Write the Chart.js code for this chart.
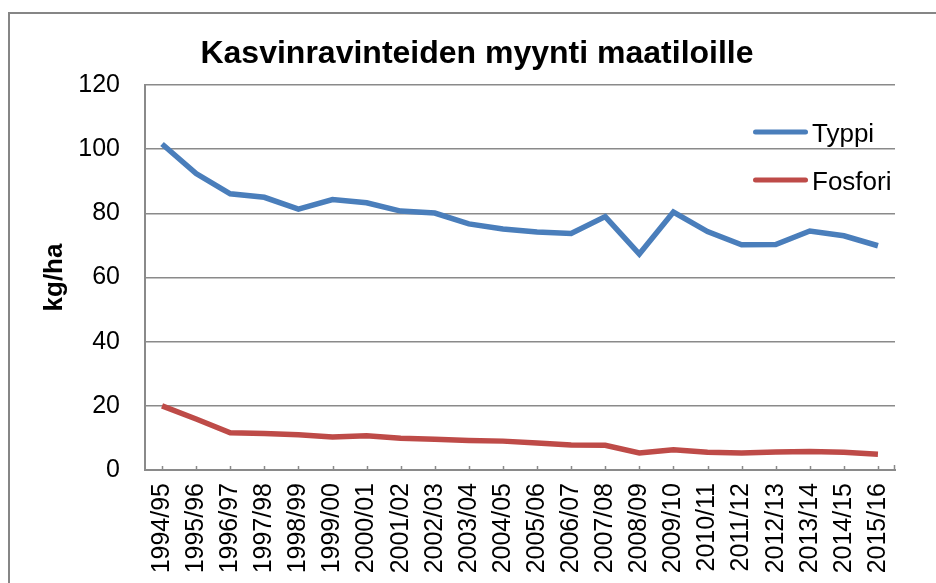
<!DOCTYPE html>
<html>
<head>
<meta charset="utf-8">
<script src="https://cdn.jsdelivr.net/npm/chart.js@4.4.1/dist/chart.umd.min.js"></script>
<style>
  html, body { margin: 0; padding: 0; background: #fff; overflow: hidden; }
  #wrap { position: relative; width: 936px; height: 583px; overflow: hidden; }
  #frame { position: absolute; left: 8px; top: 12px; width: 1000px; height: 1000px; border: 2px solid #868686; }
  #chart { position: absolute; left: 0; top: 0; }
</style>
</head>
<body>
<div id="wrap">
  <div id="frame"></div>
  <canvas id="chart" width="936" height="583"></canvas>
</div>
<script>
const chartTitle = 'Kasvinravinteiden myynti maatiloille';
const yTitle = 'kg/ha';

const years = ['1994/95', '1995/96', '1996/97', '1997/98', '1998/99', '1999/00', '2000/01',
    '2001/02', '2002/03', '2003/04', '2004/05', '2005/06', '2006/07', '2007/08', '2008/09',
    '2009/10', '2010/11', '2011/12', '2012/13', '2013/14', '2014/15', '2015/16'];

const typpi = [101.6, 92.4, 86.1, 85.0, 81.3, 84.3, 83.3, 80.7, 80.1, 76.7, 75.1,
    74.2, 73.7, 79.0, 67.3, 80.4, 74.3, 70.2, 70.3, 74.5, 73.0, 69.9];

const fosfori = [20.0, 15.9, 11.6, 11.4, 11.0, 10.3, 10.7, 9.9, 9.6, 9.2, 9.0,
    8.4, 7.8, 7.7, 5.3, 6.3, 5.5, 5.3, 5.6, 5.8, 5.5, 4.9];

const yTicks = [0, 20, 40, 60, 80, 100, 120];

const FONT = '"Liberation Sans", Arial, sans-serif';
const GRID = '#8a8a8a';
const BLUE = '#4A7EBB';
const RED = '#BE4B48';

// title + legend + small inside ticks on the x axis
const decorations = {
    id: 'decorations',
    afterDraw(chart) {
        const ctx = chart.ctx;
        const x = chart.scales.x;
        const area = chart.chartArea;

        ctx.save();
        ctx.fillStyle = '#000';
        ctx.font = 'bold 32px ' + FONT;
        ctx.textAlign = 'center';
        ctx.textBaseline = 'alphabetic';
        ctx.fillText(chartTitle, 477, 63);

        ctx.strokeStyle = GRID;
        ctx.lineWidth = 1.5;
        ctx.beginPath();
        years.forEach((_, i) => {
            const px = Math.round(x.getPixelForValue(i)) + 0.5;
            ctx.moveTo(px, area.bottom);
            ctx.lineTo(px, area.bottom - 4);
        });
        ctx.moveTo(area.right - 0.5, area.bottom);
        ctx.lineTo(area.right - 0.5, area.bottom - 5);
        ctx.stroke();

        const items = [
            { label: 'Typpi', color: BLUE, y: 132 },
            { label: 'Fosfori', color: RED, y: 180 }
        ];
        ctx.font = '26px ' + FONT;
        ctx.textAlign = 'left';
        items.forEach(item => {
            ctx.strokeStyle = item.color;
            ctx.lineWidth = 5;
            ctx.lineCap = 'round';
            ctx.beginPath();
            ctx.moveTo(755.5, item.y);
            ctx.lineTo(805.5, item.y);
            ctx.stroke();
            ctx.fillText(item.label, 812, item.y + 9.5);
        });
        ctx.restore();
    }
};

new Chart(document.getElementById('chart'), {
    type: 'line',
    data: {
        labels: years,
        datasets: [{
            label: 'Typpi',
            data: typpi,
            borderColor: BLUE,
            borderWidth: 5.5,
            pointRadius: 0,
            tension: 0,
            fill: false
        }, {
            label: 'Fosfori',
            data: fosfori,
            borderColor: RED,
            borderWidth: 5.5,
            pointRadius: 0,
            tension: 0,
            fill: false
        }]
    },
    options: {
        responsive: false,
        animation: false,
        layout: { padding: { top: 85, left: 0, right: 41, bottom: 0 } },
        plugins: {
            legend: { display: false },
            title: { display: false },
            tooltip: { enabled: false }
        },
        scales: {
            x: {
                offset: true,
                afterFit: scale => { scale.height = 113; },
                grid: { display: false, drawTicks: false },
                border: { display: true, color: GRID, width: 2 },
                ticks: {
                    autoSkip: false,
                    maxRotation: 90,
                    minRotation: 90,
                    padding: 13,
                    color: '#000',
                    font: { family: FONT, size: 25 }
                }
            },
            y: {
                min: 0,
                max: 120,
                afterFit: scale => { scale.width = 145; },
                afterBuildTicks: scale => { scale.ticks = yTicks.map(v => ({ value: v })); },
                grid: { color: GRID, lineWidth: 1.5, drawTicks: false },
                border: { display: true, color: GRID, width: 2 },
                ticks: {
                    padding: 25,
                    color: '#000',
                    font: { family: FONT, size: 25 }
                },
                title: {
                    display: true,
                    text: yTitle,
                    color: '#000',
                    padding: { top: 39, bottom: 0 },
                    font: { family: FONT, size: 26, weight: 'bold' }
                }
            }
        }
    },
    plugins: [decorations]
});
</script>
</body>
</html>
